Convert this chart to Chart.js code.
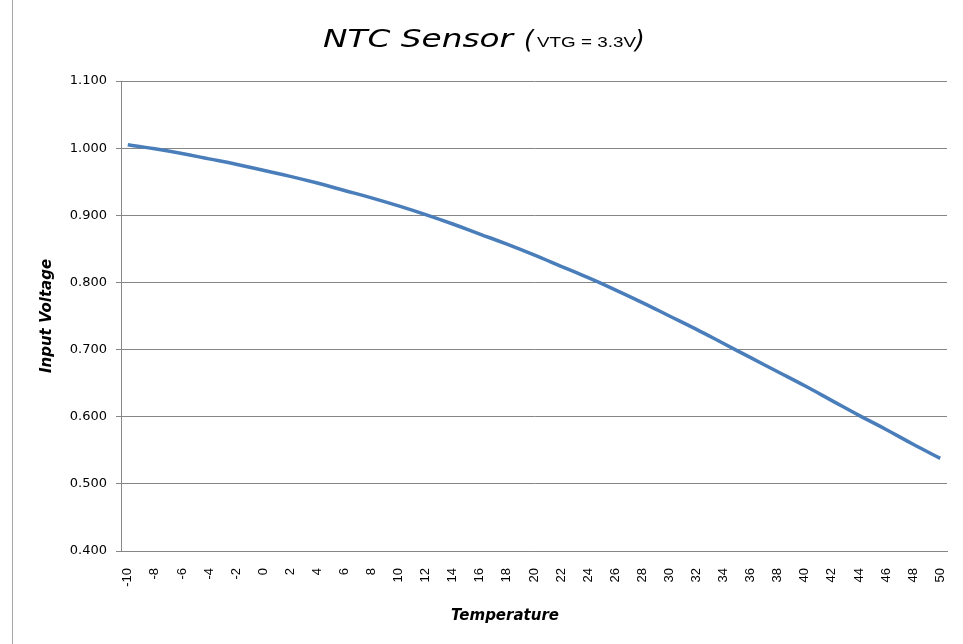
<!DOCTYPE html>
<html>
<head>
<meta charset="utf-8">
<title>NTC Sensor</title>
<script src="https://cdn.jsdelivr.net/npm/chart.js@4/dist/chart.umd.min.js"></script>
<style>
  html, body { margin: 0; padding: 0; background: #fff; }
  canvas { display: block; }
</style>
</head>
<body>
<canvas id="ntcChart" width="963" height="644"></canvas>
<script>
// temperature steps (deg C) and measured input voltage
const temps = [-10, -8, -6, -4, -2, 0, 2, 4, 6, 8, 10, 12, 14, 16, 18, 20,
    22, 24, 26, 28, 30, 32, 34, 36, 38, 40, 42, 44, 46, 48, 50];
const volts = [1.005, 0.999, 0.992, 0.984, 0.976, 0.967, 0.958, 0.948, 0.937, 0.926,
    0.914, 0.901, 0.887, 0.872, 0.857, 0.841, 0.824, 0.807, 0.789, 0.770,
    0.750, 0.730, 0.709, 0.688, 0.667, 0.646, 0.624, 0.602, 0.581, 0.559, 0.538];
const yTicks = [0.4, 0.5, 0.6, 0.7, 0.8, 0.9, 1.0, 1.1];

const titleMain = 'NTC Sensor';
const titleSub = 'VTG = 3.3V';
const xTitle = 'Temperature';

const lineBlue = '#4a7ebb';
const gridGray = '#868686';

// Excel-style titles: big italic text with a small upright part in brackets,
// x axis title sits a bit left of the plot centre like in the original
const titlePlugin = {
    id: 'excelTitle',
    afterDraw(chart) {
        const ctx = chart.ctx;
        const stretch = (text, font, x, y, w) => {
            ctx.save();
            ctx.font = font;
            const natural = ctx.measureText(text).width;
            ctx.translate(x, y);
            ctx.scale(w / natural, 1);
            ctx.fillText(text, 0, 0);
            ctx.restore();
        };
        ctx.save();
        ctx.fillStyle = '#000';
        ctx.textBaseline = 'alphabetic';
        ctx.textAlign = 'left';
        stretch(titleMain, 'italic 24px "DejaVu Sans"', 323, 47, 190);
        ctx.font = 'italic 25px "DejaVu Sans"';
        ctx.fillText('(', 524, 48);
        stretch(titleSub, '14px "Liberation Sans"', 537, 47, 99);
        ctx.font = 'italic 25px "DejaVu Sans"';
        ctx.fillText(')', 635, 48);

        ctx.textAlign = 'center';
        ctx.textBaseline = 'middle';
        ctx.font = 'italic bold 15px "DejaVu Sans"';
        ctx.fillText(xTitle, 505, 616);

        // frame edge on the left
        ctx.strokeStyle = '#a6a6a6';
        ctx.lineWidth = 1;
        ctx.beginPath();
        ctx.moveTo(12.5, 0);
        ctx.lineTo(12.5, 644);
        ctx.stroke();
        ctx.restore();
    }
};

const config = {
    type: 'line',
    data: {
        datasets: [{
            label: 'Input Voltage',
            data: temps.map((t, i) => ({ x: t, y: volts[i] })),
            borderColor: lineBlue,
            borderWidth: 3.5,
            pointRadius: 0,
            fill: false,
            tension: 0.4
        }]
    },
    options: {
        responsive: false,
        animation: false,
        layout: { padding: { top: 81, left: 34, right: 16, bottom: 15 } },
        plugins: {
            legend: { display: false },
            tooltip: { enabled: false }
        },
        scales: {
            x: {
                type: 'linear',
                min: -10.5,
                max: 50.5,
                afterBuildTicks: (scale) => { scale.ticks = temps.map(v => ({ value: v })); },
                afterFit: (scale) => {
                    scale.height = 78;
                    scale.paddingLeft = 0;
                    scale.paddingRight = 0;
                },
                grid: { display: false, drawTicks: false },
                border: { display: true, color: gridGray, width: 1 },
                ticks: {
                    minRotation: 90,
                    maxRotation: 90,
                    autoSkip: false,
                    padding: 17,
                    color: '#000',
                    font: { family: '"Liberation Sans"', size: 13 },
                    callback: (v) => String(v)
                },
                title: { display: false }
            },
            y: {
                min: 0.4,
                max: 1.1,
                afterBuildTicks: (scale) => { scale.ticks = yTicks.map(v => ({ value: v })); },
                afterFit: (scale) => { scale.width = 87; },
                grid: { color: gridGray, lineWidth: 1, tickLength: 5, drawTicks: true },
                border: { display: true, color: gridGray, width: 1 },
                ticks: {
                    padding: 9,
                    color: '#000',
                    font: { family: '"DejaVu Sans"', size: 13 },
                    callback: (v) => v.toFixed(3)
                },
                title: {
                    display: true,
                    text: 'Input Voltage',
                    color: '#000',
                    font: { family: '"DejaVu Sans"', size: 15, style: 'italic', weight: 'bold' }
                }
            }
        }
    },
    plugins: [titlePlugin]
};

new Chart(document.getElementById('ntcChart'), config);
</script>
</body>
</html>
